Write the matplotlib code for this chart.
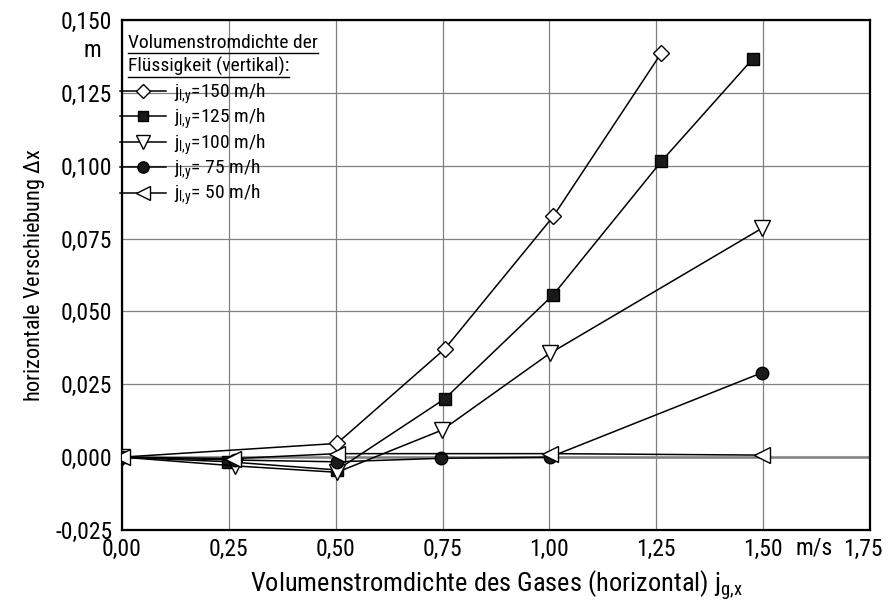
import numpy as np
import matplotlib.pyplot as plt
from matplotlib import font_manager as fm
from matplotlib.patches import Rectangle
from matplotlib.ticker import FuncFormatter
from matplotlib.transforms import ScaledTranslation

# narrow font if one is installed, otherwise DejaVu Sans
names = {f.name for f in fm.fontManager.ttflist}
fam = 'DejaVu Sans'
stretch = 'normal'
for cand in ['Liberation Sans Narrow', 'DejaVu Sans Condensed', 'Roboto Condensed',
             'Open Sans Condensed', 'Noto Sans Condensed']:
    if cand in names:
        fam = cand
        break
else:
    for f in fm.fontManager.ttflist:
        if 'Condensed' in f.fname or 'Narrow' in f.fname:
            fam = f.name
            stretch = f.stretch
            break
plt.rcParams['font.family'] = [fam, 'DejaVu Sans']
plt.rcParams['font.stretch'] = stretch
plt.rcParams['mathtext.fontset'] = 'custom'
plt.rcParams['mathtext.rm'] = fam
plt.rcParams['mathtext.it'] = fam
plt.rcParams['mathtext.sf'] = fam

## DATA
x_150 = [0.0, 0.503, 0.755, 1.009, 1.262]
y_150 = [0.0, 0.0047, 0.0371, 0.0826, 0.1387]

x_125 = [0.0, 0.249, 0.503, 0.755, 1.009, 1.262, 1.476]
y_125 = [0.0, -0.0016, -0.0044, 0.0200, 0.0557, 0.1015, 0.1367]

x_100 = [0.0, 0.264, 0.503, 0.749, 1.001, 1.498]
y_100 = [0.0, -0.0030, -0.0052, 0.0093, 0.0356, 0.0786]

x_75 = [0.0, 0.264, 0.503, 0.747, 1.001, 1.498]
y_75 = [0.0, -0.0010, -0.0016, -0.0004, 0.0000, 0.0290]

x_50 = [0.0, 0.26, 0.503, 1.001, 1.498]
y_50 = [0.0, -0.0005, 0.0012, 0.0012, 0.0007]

labels = ['=150 m/h', '=125 m/h', '=100 m/h', '= 75 m/h', '= 50 m/h']
xticks = np.arange(0, 1.76, 0.25)
yticks = np.arange(-0.025, 0.151, 0.025)

fig = plt.figure(figsize=(8.93, 6.12), dpi=100)
ax = fig.add_axes([0.1366, 0.134, 0.8376, 0.8333])

ax.set_xlim(0, 1.75)
ax.set_ylim(-0.025, 0.150)
ax.set_xticks(xticks)
ax.set_yticks(yticks)
ax.xaxis.set_major_formatter(FuncFormatter(lambda v, p: ('%.2f' % v).replace('.', ',')))
ax.yaxis.set_major_formatter(FuncFormatter(lambda v, p: ('%.3f' % v).replace('.', ',')))
narrow = fam != 'DejaVu Sans'
tsize = 17 if narrow else 14
ax.tick_params(length=0, labelsize=tsize)
ax.tick_params(axis='x', pad=6)
ax.tick_params(axis='y', pad=7)
ax.grid(True, color='#808080', lw=0.9)
ax.axhline(0, color='#a0a0a0', lw=2.2, zorder=1)
for s in ax.spines.values():
    s.set_linewidth(1.6)

# last x label pulled inside the figure like in the reference
fig.canvas.draw()
lastlab = ax.get_xticklabels()[-1]
lastlab.set_transform(lastlab.get_transform() + ScaledTranslation(-5 / 72, 0, fig.dpi_scale_trans))

# white box behind legend
ax.add_patch(Rectangle((0, 0.618), 0.262, 0.382, transform=ax.transAxes,
                       facecolor='white', edgecolor='none', zorder=1.5))

kw = dict(color='black', lw=1.1, mec='black', zorder=3)
series = [
    (x_150, y_150, dict(marker='D', ms=8, mfc='white')),
    (x_125, y_125, dict(marker='s', ms=8, mfc='#1a1a1a')),
    (x_100, y_100, dict(marker='v', ms=11, mfc='white')),
    (x_75, y_75, dict(marker='o', ms=9, mfc='#1a1a1a')),
    (x_50, y_50, dict(marker='<', ms=11, mfc='white')),
]
lsize = 14 if narrow else 12
handles = []
for (xs, ys, st), lab in zip(series, labels):
    h, = ax.plot(xs, ys, label=r'j$_{\mathregular{l{,}y}}$' + lab, **kw, **st)
    handles.append(h)

leg = ax.legend(handles=handles, loc='upper left', bbox_to_anchor=(-0.003, 0.879),
                frameon=False, fontsize=lsize, handlelength=2.4, handletextpad=0.4,
                labelspacing=0.06, borderpad=0, borderaxespad=0, markerscale=0.9)
leg.set_zorder(4)

t1 = ax.text(0.008, 0.955, 'Volumenstromdichte der', transform=ax.transAxes,
             fontsize=lsize, va='center', ha='left', zorder=4)
t2 = ax.text(0.008, 0.91, 'Flüssigkeit (vertikal):', transform=ax.transAxes,
             fontsize=lsize, va='center', ha='left', zorder=4)
fig.canvas.draw()
r = fig.canvas.get_renderer()
inv = ax.transAxes.inverted()
for t in (t1, t2):
    bb = t.get_window_extent(r)
    (x0, y0), (x1, _) = inv.transform([[bb.x0, bb.y0], [bb.x1, bb.y1]])
    ax.plot([x0, x1], [y0 - 0.002, y0 - 0.002], transform=ax.transAxes,
            color='black', lw=1.0, zorder=4, clip_on=False)

ax.text(-0.04, 0.94, 'm', transform=ax.transAxes, fontsize=tsize, ha='center', va='center')
ax.text(0.926, -0.012, 'm/s', transform=ax.transAxes, fontsize=tsize, ha='center', va='top')

ax.set_xlabel(r'Volumenstromdichte des Gases (horizontal) j$_{\mathregular{g{,}x}}$',
              fontsize=tsize + 2 if narrow else tsize + 1, labelpad=5)
ax.set_ylabel(r'horizontale Verschiebung $\mathregular{\Delta}$x', fontsize=tsize - 1, labelpad=6)

fig.savefig('out.png', dpi=100)
